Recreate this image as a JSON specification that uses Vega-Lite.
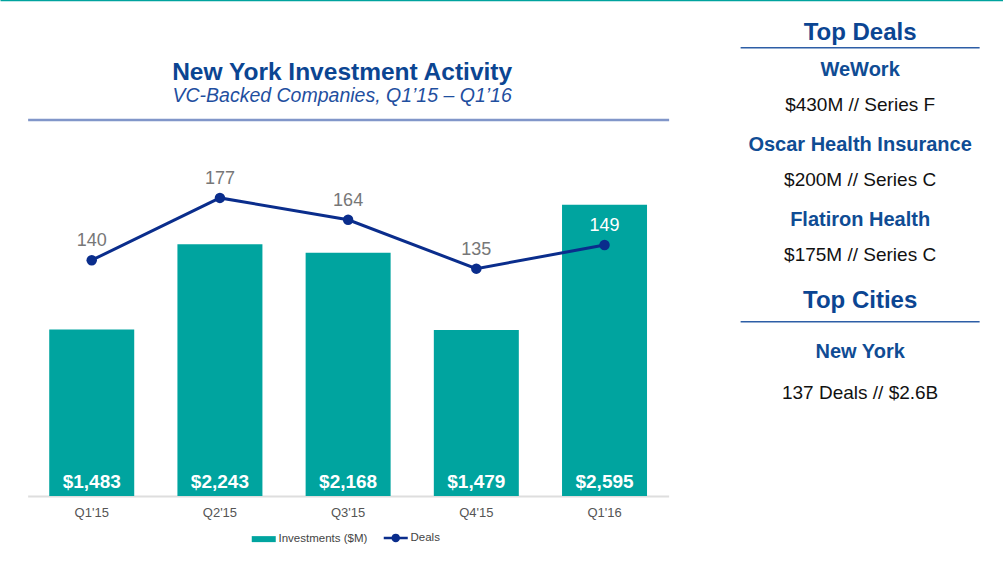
{
  "$schema": "https://vega.github.io/schema/vega-lite/v6.json",
  "background": "white",
  "padding": 0,
  "config": {"font": "Liberation Sans", "view": {"stroke": null}},
  "datasets": {
    "chart": [
      {"quarter": "Q1'15", "investments": 1483, "deals": 140},
      {"quarter": "Q2'15", "investments": 2243, "deals": 177},
      {"quarter": "Q3'15", "investments": 2168, "deals": 164},
      {"quarter": "Q4'15", "investments": 1479, "deals": 135},
      {"quarter": "Q1'16", "investments": 2595, "deals": 149}
    ],
    "panel": [
      {"order": 1, "kind": "deal", "label": "WeWork"},
      {"order": 2, "kind": "terms", "label": "$430M // Series F"},
      {"order": 3, "kind": "deal", "label": "Oscar Health Insurance"},
      {"order": 4, "kind": "terms", "label": "$200M // Series C"},
      {"order": 5, "kind": "deal", "label": "Flatiron Health"},
      {"order": 6, "kind": "terms", "label": "$175M // Series C"},
      {"order": 7, "kind": "heading", "label": "Top Cities"},
      {"order": 8, "kind": "city", "label": "New York"},
      {"order": 9, "kind": "stats", "label": "137 Deals // $2.6B"}
    ],
    "strip": [{"a": 1}]
  },
  "center": true,
  "spacing": 19,
  "vconcat": [
    {
      "width": 1008,
      "height": 1,
      "data": {"name": "strip"},
      "mark": {"type": "point", "opacity": 0, "size": 0},
      "encoding": {
        "x": {"field": "a", "type": "quantitative",
              "axis": {"orient": "top", "domainColor": "#00a39e", "domainWidth": 1.5, "labels": false, "ticks": false, "tickSize": 0, "grid": false, "title": null}}
      }
    },
    {
      "spacing": 71,
      "hconcat": [
        {
          "width": 641,
          "height": 449,
          "data": {"name": "chart"},
          "title": {
            "text": "New York Investment Activity",
            "subtitle": "VC-Backed Companies, Q1’15 – Q1’16",
            "fontSize": 24.5,
            "fontWeight": "bold",
            "color": "#0b4592",
            "subtitleFontSize": 19.5,
            "subtitleFontStyle": "italic",
            "subtitleColor": "#1f4f9f",
            "subtitlePadding": 1,
            "offset": -59,
            "dx": -6,
            "anchor": "middle"
          },
          "resolve": {"scale": {"y": "independent"}},
          "layer": [
            {
              "mark": {"type": "bar"},
              "encoding": {
                "x": {
                  "field": "quarter", "type": "nominal", "sort": null,
                  "scale": {"paddingInner": 0.337, "paddingOuter": 0.1685},
                  "axis": {"orient": "bottom", "title": null, "labelAngle": 0, "ticks": false, "tickSize": 0, "labelPadding": 10, "labelFontSize": 13, "labelColor": "#555555", "domainColor": "#dedede", "domainWidth": 2, "grid": false}
                },
                "y": {"field": "investments", "type": "quantitative", "scale": {"domain": [0, 4000]}, "axis": null},
                "color": {
                  "datum": "Investments ($M)", "type": "nominal",
                  "scale": {"domain": ["Investments ($M)", "Deals"], "range": ["#00a49f", "#0a2d8c"]},
                  "legend": {
                    "orient": "none", "legendX": 258, "legendY": 532, "direction": "horizontal",
                    "title": null, "labelFontSize": 11.5, "labelColor": "#444444", "symbolSize": 576,
                    "columnPadding": 10, "labelOffset": 9, "padding": 0,
                    "encode": {
                      "symbols": {
                        "update": {
                          "shape": {"signal": "datum.value === 'Deals' ? 'M-1,0H1M0.25,0A0.25,0.25,0,1,1,-0.25,0A0.25,0.25,0,1,1,0.25,0Z' : 'M-1,-0.25H1V0.25H-1Z'"},
                          "fill": {"signal": "datum.value === 'Deals' ? '#0a2d8c' : '#00a49f'"},
                          "stroke": {"signal": "datum.value === 'Deals' ? '#0a2d8c' : '#00a49f'"},
                          "strokeWidth": {"signal": "datum.value === 'Deals' ? 2.5 : 0"},
                          "opacity": {"value": 1}
                        }
                      }
                    }
                  }
                }
              }
            },
            {
              "mark": {"type": "text", "color": "white", "fontSize": 19, "fontWeight": "bold", "baseline": "alphabetic", "dy": -8},
              "encoding": {
                "x": {"field": "quarter", "type": "nominal", "sort": null, "axis": null},
                "y": {"datum": 0, "type": "quantitative", "scale": {"domain": [0, 4000]}, "axis": null},
                "text": {"field": "investments", "type": "quantitative", "format": "$,.0f"}
              }
            },
            {
              "mark": {"type": "line", "strokeWidth": 3, "point": {"filled": true, "size": 110}},
              "encoding": {
                "x": {
                  "field": "quarter", "type": "nominal", "sort": null,
                  "axis": {"orient": "top", "offset": -72.5, "labels": false, "ticks": false, "tickSize": 0, "grid": false, "title": null, "domainColor": "#8196c9", "domainWidth": 2.5}
                },
                "y": {"field": "deals", "type": "quantitative", "scale": {"domain": [0, 266.6]}, "axis": null},
                "color": {"datum": "Deals", "type": "nominal"}
              }
            },
            {
              "mark": {"type": "text", "fontSize": 18, "baseline": "alphabetic", "dy": -14},
              "encoding": {
                "x": {"field": "quarter", "type": "nominal", "sort": null, "axis": null},
                "y": {"field": "deals", "type": "quantitative", "scale": {"domain": [0, 266.6]}, "axis": null},
                "text": {"field": "deals", "type": "quantitative"},
                "color": {"condition": {"test": "datum.quarter === \"Q1'16\"", "value": "white"}, "value": "#777777"}
              }
            }
          ]
        },
        {
          "width": 239,
          "height": 356,
          "data": {"name": "panel"},
          "title": {"text": "Top Deals", "fontSize": 24, "fontWeight": "bold", "color": "#0b4592", "offset": 2, "anchor": "middle"},
          "encoding": {
            "y": {"field": "order", "type": "ordinal", "scale": {"type": "point", "padding": 0.74}, "axis": null}
          },
          "layer": [
            {
              "transform": [{"filter": "datum.kind === 'deal'"}],
              "mark": {"type": "text", "fontSize": 20, "fontWeight": "bold", "color": "#0f4c94", "baseline": "alphabetic", "dy": 1.3},
              "encoding": {
                "x": {"datum": 0.5, "type": "quantitative", "scale": {"domain": [0, 1]}, "axis": null},
                "text": {"field": "label"}
              }
            },
            {
              "transform": [{"filter": "datum.kind === 'terms'"}],
              "mark": {"type": "text", "fontSize": 19, "color": "#111111", "baseline": "alphabetic", "dy": -1.4},
              "encoding": {
                "x": {"datum": 0.5, "type": "quantitative", "axis": null},
                "text": {"field": "label"}
              }
            },
            {
              "transform": [{"filter": "datum.kind === 'heading'"}],
              "mark": {"type": "text", "fontSize": 24, "fontWeight": "bold", "color": "#0b4592", "baseline": "alphabetic", "dy": 8.2},
              "encoding": {
                "x": {"datum": 0.5, "type": "quantitative", "axis": null},
                "text": {"field": "label"}
              }
            },
            {
              "transform": [{"filter": "datum.kind === 'city'"}],
              "mark": {"type": "text", "fontSize": 20, "fontWeight": "bold", "color": "#0f4c94", "baseline": "alphabetic", "dy": 20.6},
              "encoding": {
                "x": {"datum": 0.5, "type": "quantitative", "axis": null},
                "text": {"field": "label"}
              }
            },
            {
              "transform": [{"filter": "datum.kind === 'stats'"}],
              "mark": {"type": "text", "fontSize": 19, "color": "#111111", "baseline": "alphabetic", "dy": 23.8},
              "encoding": {
                "x": {"datum": 0.5, "type": "quantitative", "axis": null},
                "text": {"field": "label"}
              }
            },
            {
              "transform": [{"filter": "datum.kind === 'heading'"}],
              "mark": {"type": "rule", "color": "#2d5ea6", "strokeWidth": 1.5, "yOffset": 21.6},
              "encoding": {}
            },
            {
              "transform": [{"filter": "datum.order === 1"}],
              "mark": {"type": "rule", "color": "#2d5ea6", "strokeWidth": 1.5, "yOffset": -27.1},
              "encoding": {}
            }
          ]
        }
      ]
    }
  ]
}
